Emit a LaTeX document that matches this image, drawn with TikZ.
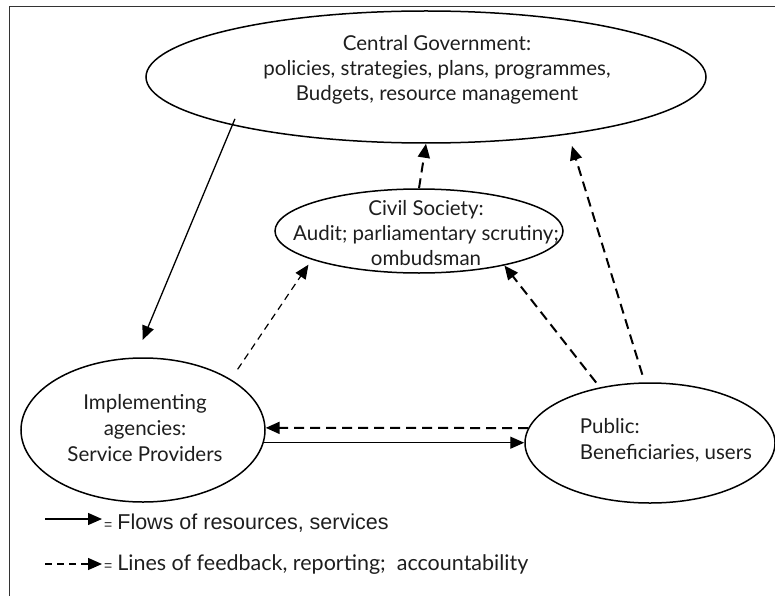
\documentclass[tikz,border=0pt]{standalone}
\usepackage{fontspec}
\setmainfont{Lato}
\newfontfamily\keyfont{Liberation Sans}
\usetikzlibrary{arrows.meta,shapes.geometric}
\definecolor{inkline}{HTML}{000000}
\definecolor{inktext}{HTML}{1E1E1E}
\tikzset{
  body/.style={
    ellipse,
    draw=inkline,
    line width=1.5pt,
    inner sep=0pt
  },
  caption/.style={
    align=center,
    font=\fontsize{20.5}{25}\selectfont,
    text=inktext,
    inner sep=0pt
  },
  keytext/.style={anchor=base west, inner sep=0pt, text=inktext},
  flow/.style={-{Triangle[length=14pt,width=12pt]}, line width=1.3pt, draw=inkline},
  report/.style={-{Triangle[length=14pt,width=12pt]}, line width=2pt,
    dash pattern=on 10pt off 6pt, draw=inkline},
  reportthin/.style={report, line width=1.2pt, dash pattern=on 7pt off 5pt}
}

\begin{document}
\begin{tikzpicture}[x=1pt,y=-1pt]
\useasboundingbox (0,0) rectangle (775,596);

% frame, cut by the page on the right and at the bottom
\draw[line width=1pt, draw=inkline!80] (9,596) |- (775,7);

% the four bodies
\node[body, minimum width=560pt, minimum height=132pt] (cg) at (426,77) {};
\node[body, minimum width=288pt, minimum height=84pt] (civil) at (419,231) {};
\node[body, minimum width=244pt, minimum height=144pt] (impl) at (143,430) {};
\node[body, minimum width=250pt, minimum height=120pt] (pub) at (650,443) {};

\node[caption] (cgtext) at (437,70)
  {Central Government:\\policies, strategies, plans, programmes,\\Budgets, resource management};
\node[caption] (civiltext) at (426,233)
  {Civil Society:\\Audit; parliamentary scrutiny;\\ombudsman};
\node[caption, font=\fontsize{20.5}{26}\selectfont] (impltext) at (145,428)
  {Implementing\\agencies:\\Service Providers};
\node[caption, align=left, font=\fontsize{20.5}{26}\selectfont] (pubtext) at (666,440)
  {Public:\\Beneficiaries, users};

% resources and services
\draw[flow, shorten <=-7pt, shorten >=19pt] (cg.194) -- (impl.96);
\draw[flow] (impl.354) -- (impl.354 -| pub.west);

% feedback and accountability
\draw[report] (civil.north) -- (cg.south);
\draw[report, shorten <=8pt, shorten >=12pt] (pub.95) -- (cg.338);
\draw[reportthin, shorten <=12pt, shorten >=6pt] (impl.30) -- (civil.195);
\draw[report, shorten <=6pt] (pub.132) -- (civil.338);
\draw[report] (pub.173) -- (impl.1);

% key
\coordinate (flowA) at (45,519);
\coordinate (flowB) at (102,519);
\coordinate (reportA) at (45,564);
\coordinate (reportB) at (102,564);
\draw[flow] (flowA) -- (flowB);
\draw[reportthin, line width=1.3pt] (reportA) -- (reportB);
\node[keytext] (flowkey) at (104,529)
  {{\keyfont\fontsize{14}{14}\selectfont =}\hspace{5pt}{\keyfont\fontsize{21.5}{21.5}\selectfont Flows of resources, services}};
\node[keytext] (reportkey) at (104,570)
  {{\keyfont\fontsize{14}{14}\selectfont =}\hspace{5pt}{\fontsize{21.5}{21.5}\selectfont Lines of feedback, reporting;\ \ accountability}};

\end{tikzpicture}
\end{document}
